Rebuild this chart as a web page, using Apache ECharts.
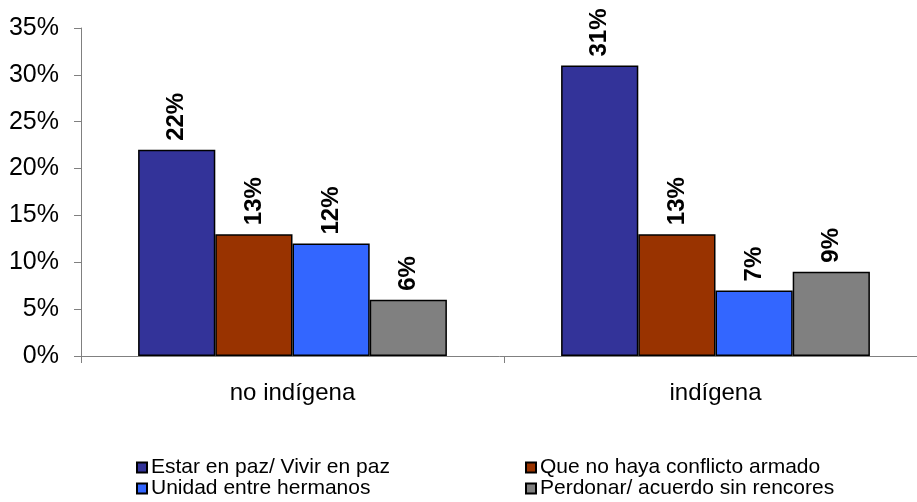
<!DOCTYPE html>
<html>
<head>
<meta charset="utf-8">
<script src="https://cdn.jsdelivr.net/npm/echarts@6/dist/echarts.min.js"></script>
<style>html,body{margin:0;padding:0;background:#fff}#c{width:917px;height:502px}</style>
</head>
<body>
<div id="c"></div>
<script>
var categories = ['no indígena', 'indígena'];
var seriesNames = ['Estar en paz/ Vivir en paz', 'Que no haya conflicto armado', 'Unidad entre hermanos', 'Perdonar/ acuerdo sin rencores'];
var estarEnPaz = [22, 31];
var noConflicto = [13, 13];
var unidad = [12, 7];
var perdonar = [6, 9];
var colors = ['#333399', '#993300', '#3366FF', '#808080'];
var yTicks = [0, 5, 10, 15, 20, 25, 30, 35];

var values = [estarEnPaz, noConflicto, unidad, perdonar];
var font = 'Liberation Sans, Arial, sans-serif';
var legendPos = [[136, 457], [525, 457], [136, 478], [525, 478]];
var chart = echarts.init(document.getElementById('c'), null, {renderer: 'canvas'});
chart.setOption({
  animation: false,
  textStyle: {fontFamily: font},
  grid: {left: 81, top: 28, width: 846, height: 328, outerBoundsMode: 'none', containLabel: false},
  legend: seriesNames.map(function (n, i) {
    return {data: [n], left: legendPos[i][0], top: legendPos[i][1], padding: 0,
      icon: 'rect', itemWidth: 10, itemHeight: 10, itemGap: 0,
      textStyle: {fontFamily: font, fontSize: 21, color: '#000', lineHeight: 20, padding: [0, 0, 0, -1]}};
  }),
  xAxis: {
    type: 'category', data: categories,
    axisLine: {lineStyle: {color: '#808080', width: 1}},
    axisTick: {show: true, length: 7, lineStyle: {color: '#808080'}},
    axisLabel: {color: '#000', fontSize: 24, fontFamily: font, margin: 25}
  },
  yAxis: {
    type: 'value', min: yTicks[0], max: yTicks[yTicks.length - 1], interval: 5,
    axisLine: {show: true, lineStyle: {color: '#808080', width: 1}},
    axisTick: {show: true, length: 7, lineStyle: {color: '#808080'}},
    splitLine: {show: false},
    axisLabel: {color: '#000', fontSize: 25, fontFamily: font, margin: 22, formatter: '{value}%'}
  },
  series: seriesNames.map(function (n, i) {
    return {
      name: n, type: 'bar', data: values[i],
      barGap: '0%', barCategoryGap: '27%',
      itemStyle: {color: colors[i], borderColor: '#000', borderWidth: 1.5},
      label: {show: true, position: 'top', rotate: 90, align: 'left', verticalAlign: 'middle',
              distance: 9, formatter: '{c}%', fontWeight: 'bold', fontSize: 24, color: '#000', fontFamily: font}
    };
  })
});
</script>
</body>
</html>
